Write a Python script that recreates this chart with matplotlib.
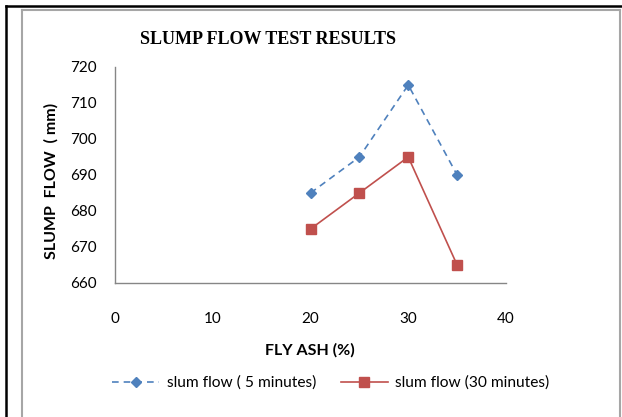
import matplotlib
matplotlib.use("Agg")
import matplotlib.pyplot as plt
from matplotlib.lines import Line2D

fly_ash = [20, 25, 30, 35]
flow_5min = [685, 695, 715, 690]
flow_30min = [675, 685, 695, 665]
series_labels = ["slum flow ( 5 minutes)", "slum flow (30 minutes)"]
title = "SLUMP FLOW TEST RESULTS"
xlabel = "FLY ASH (%)"
ylabel = "SLUMP  FLOW  ( mm)"
xticks = [0, 10, 20, 30, 40]
yticks = [660, 670, 680, 690, 700, 710, 720]

BLUE = "#4F81BD"
RED = "#C0504D"
GRAY = "#868686"
SANS = ["Lato", "DejaVu Sans"]

fig = plt.figure(figsize=(6.22, 4.17), dpi=100)
W, H = 622, 417

# outer borders
fig.add_artist(Line2D([5.5/W, 5.5/W], [0, 1-5.5/H], color="black", lw=1.8, transform=fig.transFigure))
fig.add_artist(Line2D([5.5/W, 1], [1-5.5/H, 1-5.5/H], color="black", lw=1.8, transform=fig.transFigure))
fig.add_artist(Line2D([21.5/W, 21.5/W], [0, 1-9.5/H], color="#A6A6A6", lw=1.5, transform=fig.transFigure))
fig.add_artist(Line2D([21.5/W, 619.5/W], [1-9.5/H, 1-9.5/H], color="#A6A6A6", lw=1.5, transform=fig.transFigure))
fig.add_artist(Line2D([619.5/W, 619.5/W], [0, 1-9.5/H], color="#A6A6A6", lw=1.5, transform=fig.transFigure))

ax = fig.add_axes([115/W, 1-283/H, (506-115)/W, (283-67)/H])
ax.plot(fly_ash, flow_5min, color=BLUE, ls=(0, (4, 3)), lw=1.2, marker="D",
        markersize=5.5, markerfacecolor=BLUE, markeredgecolor=BLUE, label=series_labels[0])
ax.plot(fly_ash, flow_30min, color=RED, ls="-", lw=1.2, marker="s",
        markersize=7, markerfacecolor=RED, markeredgecolor=RED, label=series_labels[1])

ax.set_xlim(0, 40)
ax.set_ylim(660, 720)
ax.set_xticks(xticks)
ax.set_yticks(yticks)
for s in ["top", "right"]:
    ax.spines[s].set_visible(False)
for s in ["left", "bottom"]:
    ax.spines[s].set_color(GRAY)
    ax.spines[s].set_linewidth(1.0)
ax.tick_params(axis="both", length=0, labelsize=11, colors="black")
ax.tick_params(axis="y", pad=13)
ax.tick_params(axis="x", pad=21)
for lab in ax.get_xticklabels() + ax.get_yticklabels():
    lab.set_family(SANS)

fig.text(268/W, 1-40/H, title, ha="center", va="center", fontsize=13,
         fontweight="bold", family=["Liberation Serif"])
fig.text(310/W, 1-350/H, xlabel, ha="center", va="center", fontsize=11.5,
         fontweight="bold", family=SANS)
fig.text(51/W, 1-181/H, ylabel, ha="center", va="center", fontsize=11.5,
         fontweight="bold", family=SANS, rotation=90)

leg = fig.legend(loc="center", bbox_to_anchor=(331/W, 1-383/H), ncol=2, frameon=False,
                 prop={"family": SANS, "size": 11.2}, handlelength=3.0, columnspacing=1.6,
                 handletextpad=0.5)

fig.savefig("out.png", dpi=100)
